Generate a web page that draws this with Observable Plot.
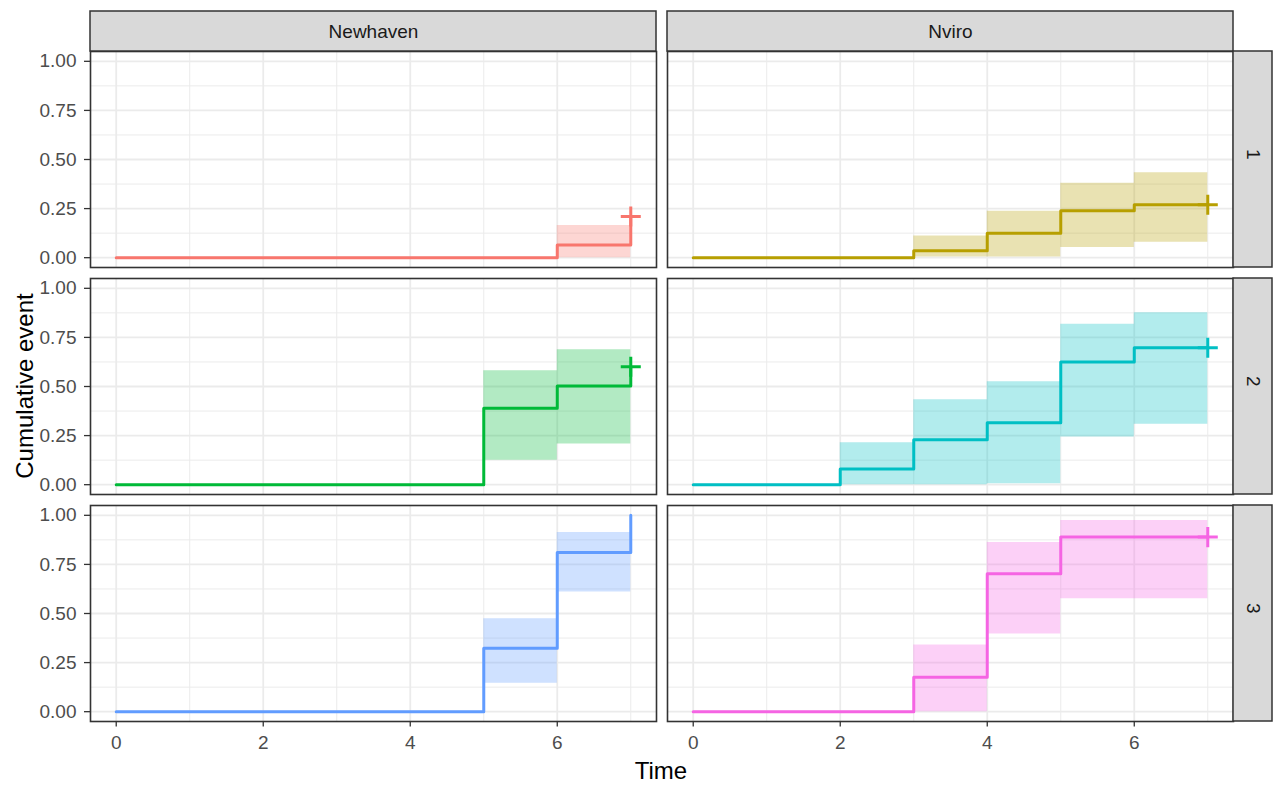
<!DOCTYPE html>
<html>
<head>
<meta charset="utf-8">
<script src="https://cdn.jsdelivr.net/npm/d3@7"></script>
<script src="https://cdn.jsdelivr.net/npm/@observablehq/plot@0.6"></script>
<style>
  html, body { margin: 0; padding: 0; background: #ffffff; }
  #chart { width: 1276px; height: 787px; }
</style>
</head>
<body>
<div id="chart"></div>
<script>
// ---- categories ----
const groups = ["Newhaven", "Nviro"];
const strata = ["1", "2", "3"];
const curveColors = ["#F8766D", "#B79F00", "#00BA38", "#00BFC4", "#619CFF", "#F564E3"];

// ---- tick labels ----
const xMajor = [0, 2, 4, 6];
const xMinor = [1, 3, 5, 7];
const yMajor = [0, 0.25, 0.5, 0.75, 1];
const yMinor = [0.125, 0.375, 0.625, 0.875];
const xTitle = "Time";
const yTitle = "Cumulative event";

// ---- series: time, cumulative event estimate, lower / upper CI ----
const nh1Time = [0, 6, 7];
const nh1Est  = [0, 0.065, 0.21];
const nh1Low  = [0, 0.0, 0.0];
const nh1Up   = [0, 0.164, 0.164];
const nh1Censor = [7];

const nv1Time = [0, 3, 4, 5, 6, 7];
const nv1Est  = [0, 0.035, 0.125, 0.239, 0.27, 0.27];
const nv1Low  = [0, 0.004, 0.003, 0.052, 0.078, 0.078];
const nv1Up   = [0, 0.11, 0.237, 0.379, 0.433, 0.433];
const nv1Censor = [7];

const nh2Time = [0, 5, 6, 7];
const nh2Est  = [0, 0.389, 0.503, 0.60];
const nh2Low  = [0, 0.125, 0.207, 0.207];
const nh2Up   = [0, 0.58, 0.687, 0.687];
const nh2Censor = [7];

const nv2Time = [0, 2, 3, 4, 5, 6, 7];
const nv2Est  = [0, 0.08, 0.229, 0.315, 0.625, 0.697, 0.697];
const nv2Low  = [0, 0.0, 0.0, 0.005, 0.243, 0.308, 0.308];
const nv2Up   = [0, 0.214, 0.433, 0.524, 0.817, 0.875, 0.875];
const nv2Censor = [7];

const nh3Time = [0, 5, 6, 7];
const nh3Est  = [0, 0.323, 0.811, 1.0];
const nh3Low  = [0, 0.145, 0.609, 0.609];
const nh3Up   = [0, 0.473, 0.913, 0.913];
const nh3Censor = [];

const nv3Time = [0, 3, 4, 5, 7];
const nv3Est  = [0, 0.175, 0.702, 0.889, 0.889];
const nv3Low  = [0, 0.0, 0.395, 0.575, 0.575];
const nv3Up   = [0, 0.34, 0.862, 0.973, 0.973];
const nv3Censor = [7];

// ---- build tables ----
const panelSeries = [
  ["Newhaven", "1", nh1Time, nh1Est, nh1Low, nh1Up, nh1Censor],
  ["Nviro",    "1", nv1Time, nv1Est, nv1Low, nv1Up, nv1Censor],
  ["Newhaven", "2", nh2Time, nh2Est, nh2Low, nh2Up, nh2Censor],
  ["Nviro",    "2", nv2Time, nv2Est, nv2Low, nv2Up, nv2Censor],
  ["Newhaven", "3", nh3Time, nh3Est, nh3Low, nh3Up, nh3Censor],
  ["Nviro",    "3", nv3Time, nv3Est, nv3Low, nv3Up, nv3Censor]
];
const keys = panelSeries.map(p => p[0] + "-" + p[1]);
const curves = [];
const censors = [];
for (const [group, stratum, time, est, low, up, cens] of panelSeries) {
  const key = group + "-" + stratum;
  time.forEach((t, i) => curves.push({group, stratum, key, time: t, est: est[i], low: low[i], up: up[i]}));
  cens.forEach(t => {
    const i = time.lastIndexOf(t);
    censors.push({group, stratum, key, time: t, est: est[i]});
  });
}
const topStrips = groups.map(g => ({group: g, stratum: strata[0], label: g}));
const rightStrips = strata.map(s => ({group: groups[groups.length - 1], stratum: s, label: s}));

// ---- layout ----
const W = 1276, H = 787;
const xDomain = [-0.35, 7.35];
const yDomain = [-0.05, 1.05];
const STRIP_H = 40, STRIP_W = 39;
const FONT = "'Liberation Sans', Arial, Helvetica, sans-serif";

function stripRender(side) {
  return function (index, scales, values, dims, context, next) {
    if (!index || index.length === 0) return null;
    const inner = next(index, scales, values, dims, context);
    const ns = "http://www.w3.org/2000/svg";
    const g = document.createElementNS(ns, "g");
    const x0 = scales.x(xDomain[0]), x1 = scales.x(xDomain[1]);
    const y0 = scales.y(yDomain[1]), y1 = scales.y(yDomain[0]);
    const r = document.createElementNS(ns, "rect");
    if (side === "top") {
      r.setAttribute("x", x0); r.setAttribute("y", y0 - STRIP_H);
      r.setAttribute("width", x1 - x0); r.setAttribute("height", STRIP_H);
    } else {
      r.setAttribute("x", x1); r.setAttribute("y", y0);
      r.setAttribute("width", STRIP_W); r.setAttribute("height", y1 - y0);
    }
    r.setAttribute("fill", "#D9D9D9");
    r.setAttribute("stroke", "#333333");
    r.setAttribute("stroke-width", 1.5);
    g.appendChild(r);
    if (inner) g.appendChild(inner);
    return g;
  };
}

const plot = Plot.plot({
  width: W,
  height: H,
  marginLeft: 90,
  marginRight: 43.4,
  marginTop: 49.2,
  marginBottom: 65.2,
  style: {fontFamily: FONT, background: "#ffffff", overflow: "visible"},
  x: {domain: xDomain},
  y: {domain: yDomain},
  fx: {domain: groups, paddingInner: 0.0199, paddingOuter: 0, axis: null},
  fy: {domain: strata, paddingInner: 0.0494, paddingOuter: 0, axis: null},
  color: {domain: keys, range: curveColors},
  marks: [
    Plot.ruleX(xMinor, {stroke: "#EBEBEB", strokeWidth: 1}),
    Plot.ruleY(yMinor, {stroke: "#EBEBEB", strokeWidth: 1}),
    Plot.ruleX(xMajor, {stroke: "#EBEBEB", strokeWidth: 1.8}),
    Plot.ruleY(yMajor, {stroke: "#EBEBEB", strokeWidth: 1.8}),
    Plot.areaY(curves, {
      x: "time", y1: "low", y2: "up", fx: "group", fy: "stratum", z: "key",
      fill: "key", fillOpacity: 0.3, curve: "step-after"
    }),
    Plot.line(curves, {
      x: "time", y: "est", fx: "group", fy: "stratum", z: "key",
      stroke: "key", strokeWidth: 3, curve: "step-after"
    }),
    Plot.dot(censors, {
      x: "time", y: "est", fx: "group", fy: "stratum",
      stroke: "key", symbol: "plus", r: 6.5, strokeWidth: 3
    }),
    Plot.frame({stroke: "#333333", strokeWidth: 1.6}),
    Plot.text(topStrips, {
      fx: "group", fy: "stratum", text: "label",
      frameAnchor: "top", lineAnchor: "middle", dy: -STRIP_H / 2, fontSize: 19, fill: "#1A1A1A",
      render: stripRender("top")
    }),
    Plot.text(rightStrips, {
      fx: "group", fy: "stratum", text: "label",
      frameAnchor: "right", lineAnchor: "middle", dx: STRIP_W / 2, rotate: 90, fontSize: 19, fill: "#1A1A1A",
      render: stripRender("right")
    }),
    Plot.axisX(xMajor, {
      tickSize: 5.5, tickPadding: 8, fontSize: 19, fill: "#4D4D4D",
      stroke: "#333333", strokeWidth: 1.3, tickFormat: d => String(d), label: null
    }),
    Plot.axisY(yMajor, {
      tickSize: 6, tickPadding: 8, fontSize: 19, fill: "#4D4D4D",
      stroke: "#333333", strokeWidth: 1.3, tickFormat: d3.format(".2f"), label: null
    })
  ]
});

const svg = d3.select(plot);
svg.append("text")
  .attr("transform", "translate(32.5, 386) rotate(-90)")
  .attr("text-anchor", "middle")
  .attr("font-size", 24)
  .attr("font-family", FONT)
  .attr("fill", "#000000")
  .text(yTitle);
svg.append("text")
  .attr("x", 661)
  .attr("y", 779)
  .attr("text-anchor", "middle")
  .attr("font-size", 24)
  .attr("font-family", FONT)
  .attr("fill", "#000000")
  .text(xTitle);

document.getElementById("chart").appendChild(plot);
</script>
</body>
</html>
